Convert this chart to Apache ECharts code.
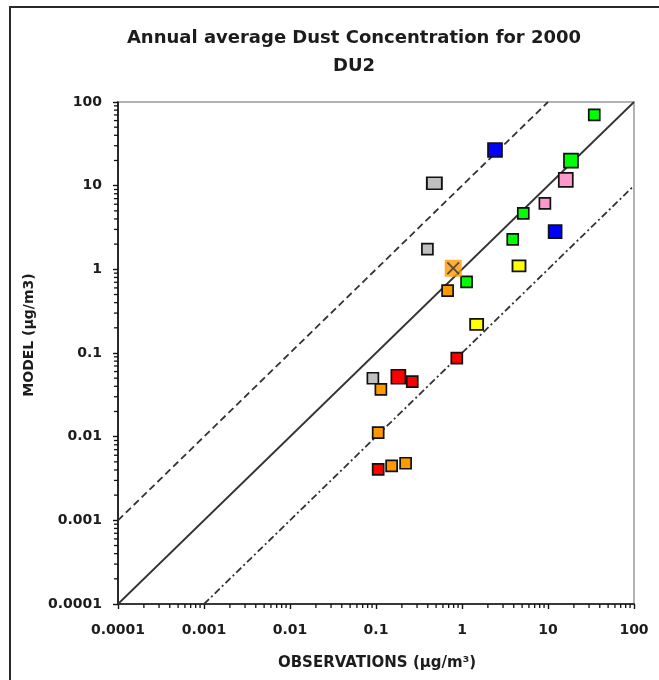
<!DOCTYPE html>
<html>
<head>
<meta charset="utf-8">
<script src="https://cdn.jsdelivr.net/npm/echarts@6/dist/echarts.min.js"></script>
<style>
html,body{margin:0;padding:0;background:#fff;}
#chart{width:659px;height:680px;}
</style>
</head>
<body>
<div id="chart"></div>
<script>
// ---------- DATA ----------
const titleText = 'Annual average Dust Concentration for 2000';
const subtitleText = 'DU2';
const xAxisName = 'OBSERVATIONS (µg/m³)';
const yAxisName = 'MODEL (µg/m3)';
const tickLabels = ['0.0001', '0.001', '0.01', '0.1', '1', '10', '100'];

// [observation, model] pairs, grouped by marker colour
const greenSmall = [[34.5, 70], [5.16, 4.67], [3.89, 2.28], [1.13, 0.71]];
const greenLarge = [[18.5, 19.9]];
const pinkSmall = [[9.2, 6.15]];
const pinkLarge = [[16.1, 11.7]];
const blueSmall = [[12.1, 2.82]];
const blueLarge = [[2.42, 26.7]];
const greyWide = [[0.477, 10.7]];
const greySmall = [[0.396, 1.74], [0.092, 0.0499]];
const yellowSmall = [[4.6, 1.10], [1.48, 0.22]];
const orangeSmall = [[0.68, 0.556], [0.114, 0.0368], [0.106, 0.0112], [0.152, 0.00447], [0.221, 0.00481]];
const orangeCross = [[0.79, 1.03]];
const redSmall = [[0.87, 0.087], [0.264, 0.0454], [0.106, 0.00407]];
const redLarge = [[0.182, 0.052]];

// reference lines (1:1 and factor 10)
const oneToOne = [[0.0001, 0.0001], [100, 100]];
const factor10Upper = [[0.0001, 0.001], [10, 100]];
const factor10Lower = [[0.001, 0.0001], [100, 10]];

// minor log tick values (2..9 per decade)
const minorTickValues = [];
for (let d = -4; d <= 1; d++) {
  for (let k = 2; k <= 9; k++) minorTickValues.push(+(k * Math.pow(10, d)).toPrecision(3));
}

// ---------- CHART ----------
const FONT = 'DejaVu Sans';
const TXT = '#1c1c1c';
const chart = echarts.init(document.getElementById('chart'), null, {renderer: 'canvas'});

function labelFor(v) {
  const i = Math.round(Math.log10(v)) + 4;
  return tickLabels[i] !== undefined ? tickLabels[i] : '';
}

function sq(name, data, color, size) {
  return {
    name: name, type: 'scatter', data: data, symbol: 'rect', symbolSize: size, z: 5,
    itemStyle: {color: color, borderColor: '#111', borderWidth: 1.7, opacity: 1}
  };
}

function refLine(data, type) {
  return {
    type: 'line', data: data, symbol: 'none', silent: true, z: 3,
    lineStyle: {color: '#333', width: 1.8, type: type}
  };
}

const option = {
  backgroundColor: '#fff',
  animation: false,
  grid: {left: 118, right: 25, top: 102, bottom: 76, show: true, borderColor: '#9a9a9a', borderWidth: 1.5, backgroundColor: 'transparent'},
  xAxis: {
    type: 'log', logBase: 10, min: 0.0001, max: 100, interval: 1,
    axisLine: {show: true, onZero: false, lineStyle: {color: '#111', width: 1.7}},
    axisTick: {show: true, length: 5, inside: false, lineStyle: {color: '#111', width: 1.4}},
    splitLine: {show: false},
    axisLabel: {formatter: labelFor, color: TXT, fontFamily: FONT, fontWeight: 'bold', fontSize: 14, margin: 19}
  },
  yAxis: {
    type: 'log', logBase: 10, min: 0.0001, max: 100, interval: 1,
    axisLine: {show: true, onZero: false, lineStyle: {color: '#111', width: 1.7}},
    axisTick: {show: true, length: 5, inside: false, lineStyle: {color: '#111', width: 1.4}},
    splitLine: {show: false},
    axisLabel: {formatter: labelFor, color: TXT, fontFamily: FONT, fontWeight: 'bold', fontSize: 14, margin: 16}
  },
  graphic: [
    {type: 'rect', silent: true, shape: {x: 10, y: 7, width: 720, height: 720}, style: {fill: 'none', stroke: '#2a2a2a', lineWidth: 2}},
    {type: 'text', style: {text: titleText, x: 354, y: 38, textAlign: 'center', textVerticalAlign: 'middle', fill: TXT, font: 'bold 18px "DejaVu Sans"'}},
    {type: 'text', style: {text: subtitleText, x: 354, y: 66, textAlign: 'center', textVerticalAlign: 'middle', fill: TXT, font: 'bold 18px "DejaVu Sans"'}},
    {type: 'text', style: {text: xAxisName, x: 377, y: 663, textAlign: 'center', textVerticalAlign: 'middle', fill: TXT, font: 'bold 15px "DejaVu Sans"'}},
    {type: 'text', rotation: Math.PI / 2, x: 29, y: 335, style: {text: yAxisName, x: 0, y: 0, textAlign: 'center', textVerticalAlign: 'middle', fill: TXT, font: 'bold 14px "DejaVu Sans"'}}
  ],
  series: [
    refLine(oneToOne, 'solid'),
    refLine(factor10Upper, [7, 4]),
    refLine(factor10Lower, [7, 3, 2, 3]),
    {
      type: 'custom', silent: true, clip: false, z: 4,
      data: minorTickValues.map(v => [v, 0.0001]),
      renderItem: function (params, api) {
        const p = api.coord([api.value(0), api.value(1)]);
        return {type: 'line', shape: {x1: p[0], y1: p[1], x2: p[0], y2: p[1] + 4}, style: {stroke: '#111', lineWidth: 1.3}};
      }
    },
    {
      type: 'custom', silent: true, clip: false, z: 4,
      data: minorTickValues.map(v => [0.0001, v]),
      renderItem: function (params, api) {
        const p = api.coord([api.value(0), api.value(1)]);
        return {type: 'line', shape: {x1: p[0], y1: p[1], x2: p[0] - 4, y2: p[1]}, style: {stroke: '#111', lineWidth: 1.3}};
      }
    },
    sq('greenSmall', greenSmall, '#00ff00', 11),
    sq('greenLarge', greenLarge, '#00ff00', 14),
    sq('pinkSmall', pinkSmall, '#ff99cc', 11),
    sq('pinkLarge', pinkLarge, '#ff99cc', 14),
    sq('blueSmall', blueSmall, '#0000ff', 13),
    sq('blueLarge', blueLarge, '#0000ff', 14),
    sq('greyWide', greyWide, '#c0c0c0', [15, 12]),
    sq('greySmall', greySmall, '#c0c0c0', 11),
    sq('yellowSmall', yellowSmall, '#ffff00', [13, 11]),
    sq('orangeSmall', orangeSmall, '#ff9900', 11),
    {
      name: 'orangeCross', type: 'scatter', data: orangeCross, symbol: 'rect', symbolSize: 17, z: 5,
      itemStyle: {color: '#ff9900', borderWidth: 0}
    },
    {
      name: 'orangeCrossX', type: 'scatter', data: orangeCross, z: 6,
      symbol: 'path://M0,1L1,0L5,4L9,0L10,1L6,5L10,9L9,10L5,6L1,10L0,9L4,5Z', symbolSize: 13,
      itemStyle: {color: '#333'}
    },
    sq('redSmall', redSmall, '#ff0000', 11),
    sq('redLarge', redLarge, '#ff0000', 14)
  ]
};
chart.setOption(option);
</script>
</body>
</html>
